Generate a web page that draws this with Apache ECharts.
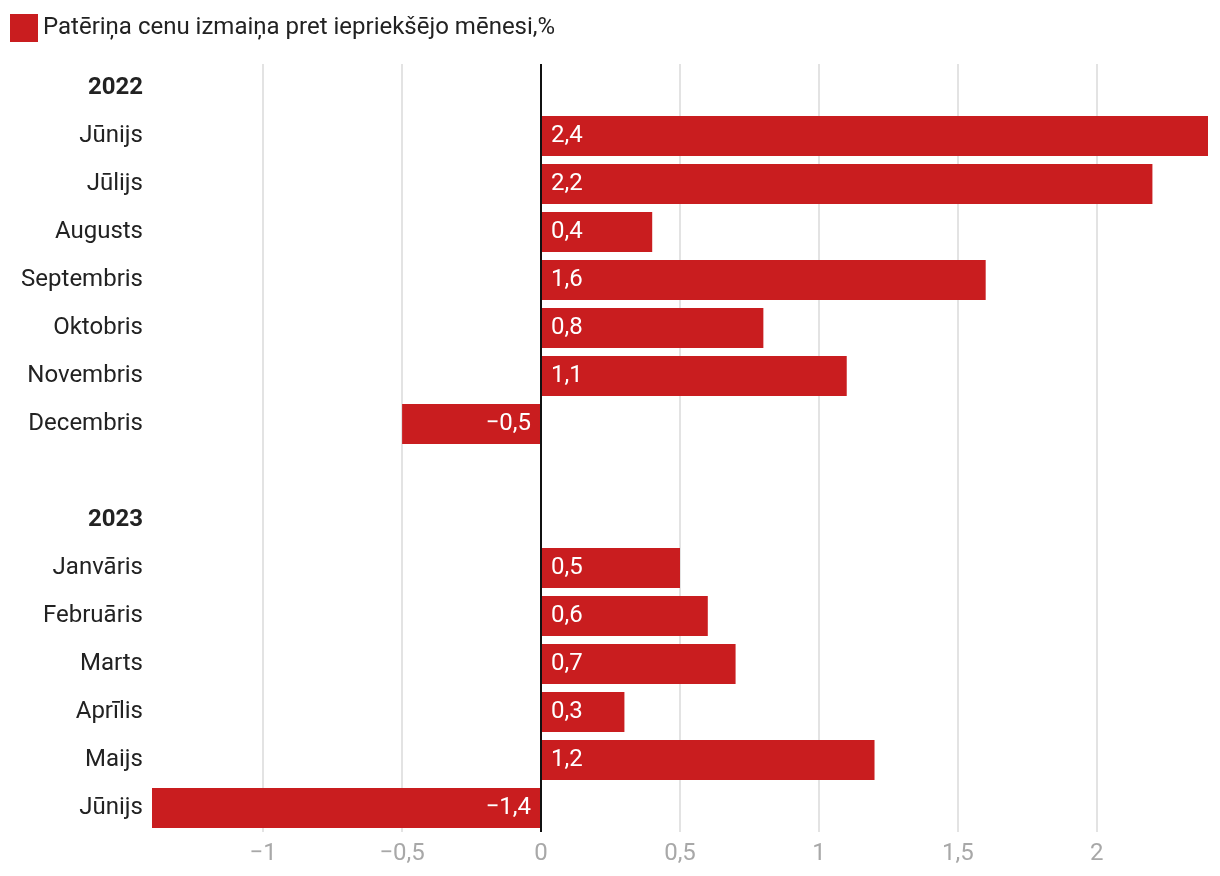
<!DOCTYPE html>
<html>
<head>
<meta charset="utf-8">
<script src="https://cdn.jsdelivr.net/npm/echarts@6/dist/echarts.min.js"></script>
<style>
html,body{margin:0;padding:0;background:#fff;}
#chart{width:1220px;height:876px;}
</style>
</head>
<body>
<div id="chart"></div>
<script>
const seriesName = 'Patēriņa cenu izmaiņa pret iepriekšējo mēnesi,%';
const categories = ['2022','Jūnijs','Jūlijs','Augusts','Septembris','Oktobris','Novembris','Decembris','','2023','Janvāris','Februāris','Marts','Aprīlis','Maijs','Jūnijs'];
const headerRows = ['2022','2023'];
const values = [null,2.4,2.2,0.4,1.6,0.8,1.1,-0.5,null,null,0.5,0.6,0.7,0.3,1.2,-1.4];
const xTicks = [-1,-0.5,0,0.5,1,1.5,2];

function fmt(v){
  return String(v).replace('.', ',').replace('-', '\u2212');
}

const chart = echarts.init(document.getElementById('chart'));
chart.setOption({
  animation: false,
  textStyle: {fontFamily: 'Roboto'},
  legend: {
    left: 10, top: 14, padding: 0,
    icon: 'rect', itemWidth: 28, itemHeight: 28,
    textStyle: {fontSize: 24, color: '#222', fontFamily: 'Roboto'},
    data: [seriesName]
  },
  grid: {left: 152, right: 12, top: 64, bottom: 44, containLabel: false},
  xAxis: {
    type: 'value', min: -1.4, max: 2.4,
    axisLine: {show: false},
    axisTick: {show: false, customValues: xTicks},
    splitLine: {show: true, lineStyle: {color: '#e3e3e3', width: 2}},
    axisLabel: {
      customValues: xTicks,
      fontSize: 24, color: '#a8a8a8', margin: 10,
      formatter: v => fmt(v)
    }
  },
  yAxis: {
    type: 'category', inverse: true,
    data: categories.map((c, i) => String(i)),
    axisLine: {show: false},
    axisTick: {show: false},
    splitLine: {show: false},
    axisLabel: {
      margin: 9, fontSize: 24, color: '#222',
      formatter: (v, i) => {
        const c = categories[+v];
        return headerRows.includes(c) ? '{b|' + c + '}' : c;
      },
      rich: {b: {fontWeight: 'bold', fontSize: 24, color: '#222'}}
    }
  },
  series: [{
    name: seriesName,
    type: 'bar',
    data: values.map(v => v != null && v < 0
      ? {value: v, label: {position: 'insideRight'}}
      : v),
    barCategoryGap: '16.7%',
    itemStyle: {color: '#c91d1f'},
    label: {
      show: true,
      fontSize: 24, color: '#fff',
      distance: 10,
      position: 'insideLeft',
      formatter: p => p.value == null ? '' : fmt(p.value)
    },
    markLine: {
      silent: true, symbol: 'none',
      label: {show: false},
      lineStyle: {color: '#111', width: 2, type: 'solid'},
      data: [{xAxis: 0}]
    }
  }]
});
</script>
</body>
</html>
